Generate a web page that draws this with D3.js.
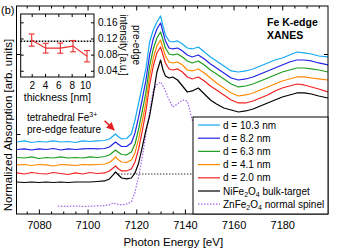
<!DOCTYPE html>
<html><head><meta charset="utf-8">
<script src="https://cdn.jsdelivr.net/npm/d3@7"></script>
<style>body{margin:0;background:#fff}svg{display:block;font-family:"Liberation Sans",Arial,sans-serif}</style>
</head><body><svg id="c" width="339" height="250"></svg>
<script>
// ---- main spectra data ----
const energy = [7071,7074,7077,7080,7083,7086,7089,7092,7095,7098,7101,7104,7107,7109,7110.5,7111.5,7112.5,7114,7116,7118,7119.5,7121,7122.5,7124,7125.5,7127,7128.5,7130,7131,7132,7133.5,7135,7137,7139,7141,7143,7145.5,7148,7150.5,7153,7156,7159,7162,7165,7168,7171,7174,7177,7180,7183,7186,7189,7192,7195,7198.8];
const d103 = [0.900,0.913,0.894,0.906,0.900,0.913,0.900,0.906,0.894,0.913,0.906,0.913,0.919,0.938,0.975,1.000,0.969,0.938,0.944,1.000,1.175,1.388,1.600,1.825,2.150,2.300,2.400,2.475,2.350,2.238,2.163,2.150,2.163,2.125,2.075,2.063,2.088,2.025,1.963,1.913,1.850,1.788,1.775,1.788,1.813,1.850,1.888,1.925,1.950,1.988,2.025,2.013,2.000,1.975,1.963];
const d82 = [0.806,0.813,0.800,0.813,0.806,0.819,0.800,0.813,0.806,0.813,0.819,0.813,0.819,0.838,0.875,0.900,0.875,0.844,0.844,0.888,1.013,1.213,1.438,1.675,1.988,2.188,2.313,2.388,2.275,2.163,2.075,2.063,2.075,2.038,1.988,1.963,1.988,1.938,1.875,1.825,1.763,1.700,1.675,1.688,1.713,1.750,1.788,1.825,1.863,1.900,1.925,1.925,1.913,1.888,1.863];
const d63 = [0.706,0.700,0.713,0.694,0.706,0.700,0.713,0.700,0.706,0.700,0.713,0.706,0.719,0.738,0.775,0.800,0.775,0.744,0.738,0.775,0.875,1.063,1.288,1.525,1.850,2.063,2.200,2.275,2.175,2.075,2.000,1.988,2.000,1.963,1.913,1.888,1.913,1.863,1.800,1.750,1.688,1.625,1.588,1.600,1.625,1.663,1.700,1.738,1.775,1.800,1.825,1.825,1.813,1.800,1.775];
const d41 = [0.613,0.619,0.606,0.619,0.613,0.600,0.619,0.613,0.606,0.619,0.613,0.619,0.625,0.644,0.681,0.713,0.681,0.650,0.644,0.675,0.763,0.938,1.163,1.400,1.725,1.950,2.100,2.175,2.075,1.975,1.900,1.888,1.900,1.863,1.800,1.788,1.813,1.763,1.700,1.638,1.575,1.513,1.475,1.488,1.513,1.550,1.588,1.625,1.663,1.688,1.713,1.713,1.700,1.688,1.675];
const d20 = [0.513,0.500,0.519,0.506,0.500,0.519,0.506,0.494,0.513,0.500,0.519,0.506,0.513,0.538,0.575,0.600,0.569,0.538,0.538,0.563,0.650,0.813,1.038,1.288,1.613,1.850,2.013,2.088,1.988,1.888,1.813,1.800,1.813,1.775,1.713,1.688,1.713,1.663,1.600,1.550,1.488,1.425,1.388,1.388,1.413,1.450,1.488,1.538,1.575,1.600,1.625,1.613,1.588,1.563,1.525];
const bulk = [0.400,0.394,0.400,0.394,0.400,0.394,0.400,0.394,0.400,0.400,0.400,0.406,0.413,0.438,0.488,0.525,0.494,0.450,0.438,0.450,0.513,0.638,0.838,1.050,1.225,1.488,1.775,1.925,1.800,1.725,1.700,1.713,1.675,1.600,1.525,1.538,1.575,1.500,1.425,1.375,1.325,1.300,1.275,1.288,1.313,1.350,1.388,1.425,1.463,1.488,1.513,1.513,1.500,1.475,1.450];
// ZnFe2O4 reference (own energy grid)
const znEnergy = [7087.8,7091,7095,7099,7103,7107,7109,7110.5,7112,7114,7116,7118,7119.4,7121.2,7122.3,7123.6,7125.6,7127,7128.4,7130,7131.5,7133,7135,7137,7139,7141,7143,7146,7150,7156,7164,7172,7180,7188,7196];
const znSpinel = [0.100,0.094,0.100,0.094,0.100,0.106,0.113,0.138,0.125,0.113,0.125,0.150,0.263,0.500,0.675,0.925,1.300,1.550,1.613,1.650,1.575,1.463,1.338,1.375,1.425,1.413,1.175,1.050,1.025,1.038,1.075,1.125,1.150,1.138,1.113];
const edgeRefLevel = 0.5;
const edgeRefRange = [7112.5, 7150];
const legendLabels = ["d = 10.3 nm","d = 8.2 nm","d = 6.3 nm","d = 4.1 nm","d = 2.0 nm","NiFe2O4 bulk-target","ZnFe2O4 normal spinel"];
const xTicks = [7080,7100,7120,7140,7160,7180];

// ---- inset data ----
const thickness = [2.0, 4.1, 6.3, 8.2, 10.3];
const preEdge = [0.116, 0.096, 0.096, 0.101, 0.076];
const preEdgeErr = [0.015, 0.012, 0.0125, 0.014, 0.014];
const bulkPreEdge = 0.113;
const insetXTicks = [2,4,6,8,10];
const insetYTicks = [0.04,0.08,0.12,0.16];

const svg = d3.select("#c");
const L=16.5, R=328, T=6, B=214;
const x = d3.scaleLinear().domain([7070.8, 7198.8]).range([L, R]);
const y = d3.scaleLinear().domain([0, 2.6]).range([B, T]);

const series = [
  {v:d103, c:"#14a9f2"},
  {v:d82, c:"#2222e6"},
  {v:d63, c:"#1f9e1f"},
  {v:d41, c:"#ff8a00"},
  {v:d20, c:"#f22222"},
  {v:bulk, c:"#000000"}
];

svg.append("defs").append("clipPath").attr("id","clip")
  .append("rect").attr("x",L).attr("y",T).attr("width",R-L).attr("height",B-T);

const g = svg.append("g").attr("clip-path","url(#clip)");
const line = d3.line().x(d=>x(d[0])).y(d=>y(d[1]));

// dotted edge reference line
g.append("path").attr("d", line(edgeRefRange.map(e=>[e, edgeRefLevel])))
  .attr("stroke","#000").attr("stroke-width",0.8).attr("stroke-dasharray","1.5,1.5").attr("fill","none");

// ZnFe2O4
g.append("path").attr("d", line(znEnergy.map((e,i)=>[e, znSpinel[i]])))
  .attr("stroke","#a066e6").attr("stroke-width",1.2).attr("stroke-dasharray","1.5,1.5").attr("fill","none");

series.slice().reverse().forEach(s=>{
  g.append("path").attr("d", line(energy.map((e,i)=>[e, s.v[i]])))
    .attr("stroke", s.c).attr("stroke-width",1.2).attr("fill","none").attr("stroke-linejoin","round");
});

// axes
const minor = d3.range(7075, 7199, 5).filter(v=>!xTicks.includes(v));
function tickAx(axis, tr){ const a=svg.append("g").attr("transform",tr).call(axis); a.select(".domain").remove(); return a; }
const bx = tickAx(d3.axisBottom(x).tickValues(xTicks).tickSize(-4.5).tickPadding(7).tickFormat(d3.format("d")), `translate(0,${B})`);
bx.selectAll("text").attr("font-size",11).attr("fill","#000").attr("font-family",null);
tickAx(d3.axisBottom(x).tickValues(minor).tickSize(-2.5).tickFormat(""), `translate(0,${B})`);
tickAx(d3.axisTop(x).tickValues(xTicks).tickSize(-4.5).tickFormat(""), `translate(0,${T})`);
tickAx(d3.axisTop(x).tickValues(minor).tickSize(-2.5).tickFormat(""), `translate(0,${T})`);
tickAx(d3.axisLeft(y).tickValues([1,2]).tickSize(-4).tickFormat(""), `translate(${L},0)`);
tickAx(d3.axisRight(y).tickValues([1,2]).tickSize(-4).tickFormat(""), `translate(${R},0)`);
svg.selectAll(".tick line").attr("stroke","#000");

svg.append("rect").attr("x",L).attr("y",T).attr("width",R-L).attr("height",B-T)
  .attr("fill","none").attr("stroke","#000").attr("stroke-width",1);

// axis titles
svg.append("text").attr("x",(L+R)/2+1).attr("y",246).attr("text-anchor","middle").attr("font-size",11.5).text("Photon Energy [eV]");
svg.append("text").attr("transform","translate(11.5,125) rotate(-90)").attr("text-anchor","middle").attr("font-size",11.5).text("Normalized Absorption [arb. units]");
svg.append("text").attr("x",1).attr("y",14).attr("font-size",11).text("(b)");

// Fe K-edge XANES
svg.append("text").attr("x",267).attr("y",26).attr("font-size",10.5).attr("font-weight","bold").text("Fe K-edge");
svg.append("text").attr("x",267).attr("y",39).attr("font-size",10.5).attr("font-weight","bold").text("XANES");

// pre-edge annotation
const ann = svg.append("text").attr("x",27).attr("y",120.5).attr("font-size",10);
ann.append("tspan").text("tetrahedral Fe");
ann.append("tspan").attr("font-size",7).attr("dy",-4).text("3+");
svg.append("text").attr("x",27).attr("y",133).attr("font-size",10).text("pre-edge feature");
const arrowFrom=[7107,1.165], arrowTo=[7110.9,1.05];
svg.append("defs").append("marker").attr("id","ah").attr("viewBox","0 0 10 10").attr("refX",9).attr("refY",5)
  .attr("markerWidth",5).attr("markerHeight",5).attr("orient","auto")
  .append("path").attr("d","M0,0 L10,5 L0,10 z").attr("fill","#e41e1e");
svg.append("line").attr("x1",x(arrowFrom[0])).attr("y1",y(arrowFrom[1])).attr("x2",x(arrowTo[0])).attr("y2",y(arrowTo[1]))
  .attr("stroke","#e41e1e").attr("stroke-width",1.6).attr("marker-end","url(#ah)");

// legend
const lg = svg.append("g");
lg.append("rect").attr("x",193).attr("y",117).attr("width",R-193).attr("height",B-117).attr("fill","#fff").attr("stroke","#000").attr("stroke-width",1);
const legendItems = series.map(s=>({c:s.c,dash:null})).concat([{c:"#a066e6",dash:"1.5,1.5"}]);
legendItems.forEach((it,i)=>{
  const yy = 125 + i*13.2;
  lg.append("line").attr("x1",198).attr("x2",220).attr("y1",yy).attr("y2",yy).attr("stroke",it.c).attr("stroke-width",1.2).attr("stroke-dasharray",it.dash);
  const t = lg.append("text").attr("x",223).attr("y",yy+3.5).attr("font-size",10);
  const lab = legendLabels[i];
  const m = lab.match(/^(\w+?)Fe2O4 (.*)$/);
  if(m){
    t.append("tspan").text(m[1]+"Fe");
    t.append("tspan").attr("font-size",7).attr("dy",2.5).text("2");
    t.append("tspan").attr("dy",-2.5).text("O");
    t.append("tspan").attr("font-size",7).attr("dy",2.5).text("4");
    t.append("tspan").attr("dy",-2.5).text(" "+m[2]);
  } else t.text(lab);
});

// inset
const IL=20.7, IR=94, IT=14, IB=77;
const ix = d3.scaleLinear().domain([0.35,11.35]).range([IL,IR]);
const iy = d3.scaleLinear().domain([0.0246,0.1806]).range([IB,IT]);
const ig = svg.append("g");
ig.append("rect").attr("x",IL).attr("y",IT).attr("width",IR-IL).attr("height",IB-IT).attr("fill","#fff");
ig.append("line").attr("x1",IL).attr("x2",IR).attr("y1",iy(bulkPreEdge)).attr("y2",iy(bulkPreEdge))
  .attr("stroke","#000").attr("stroke-width",1.6).attr("stroke-dasharray","1.6,1.4");
const ic="#ec2d2d";
ig.append("path").attr("d", d3.line().x((d,i)=>ix(thickness[i])).y(d=>iy(d))(preEdge))
  .attr("stroke",ic).attr("stroke-width",1.1).attr("fill","none");
thickness.forEach((t,i)=>{
  const cx=ix(t), y1=iy(preEdge[i]+preEdgeErr[i]), y2=iy(preEdge[i]-preEdgeErr[i]);
  ig.append("line").attr("x1",cx).attr("x2",cx).attr("y1",y1).attr("y2",y2).attr("stroke",ic).attr("stroke-width",1.1);
  [y1,y2].forEach(yy=>ig.append("line").attr("x1",cx-3).attr("x2",cx+3).attr("y1",yy).attr("y2",yy).attr("stroke",ic).attr("stroke-width",1.1));
});
function itick(axis,tr){ const a=ig.append("g").attr("transform",tr).call(axis); a.select(".domain").remove(); a.selectAll("line").attr("stroke","#000"); a.selectAll("text").attr("font-size",10).attr("fill","#000").attr("font-family",null); return a; }
itick(d3.axisBottom(ix).tickValues(insetXTicks).tickSize(-3).tickPadding(5), `translate(0,${IB})`);
itick(d3.axisTop(ix).tickValues(insetXTicks).tickSize(-3).tickFormat(""), `translate(0,${IT})`);
itick(d3.axisLeft(iy).tickValues(insetYTicks).tickSize(-3).tickFormat(""), `translate(${IL},0)`);
itick(d3.axisRight(iy).tickValues(insetYTicks).tickSize(-3).tickPadding(4).tickFormat(d3.format(".2f")), `translate(${IR},0)`);
ig.append("rect").attr("x",IL).attr("y",IT).attr("width",IR-IL).attr("height",IB-IT).attr("fill","none").attr("stroke","#000").attr("stroke-width",1);
ig.append("text").attr("x",(IL+IR)/2).attr("y",101).attr("text-anchor","middle").attr("font-size",10.5).text("thickness [nm]");
ig.append("text").attr("transform","translate(133,45) rotate(90)").attr("text-anchor","middle").attr("font-size",10).text("pre-edge");
ig.append("text").attr("transform","translate(120,45) rotate(90)").attr("text-anchor","middle").attr("font-size",10).text("intensity [a.u.]");
</script></body></html>
